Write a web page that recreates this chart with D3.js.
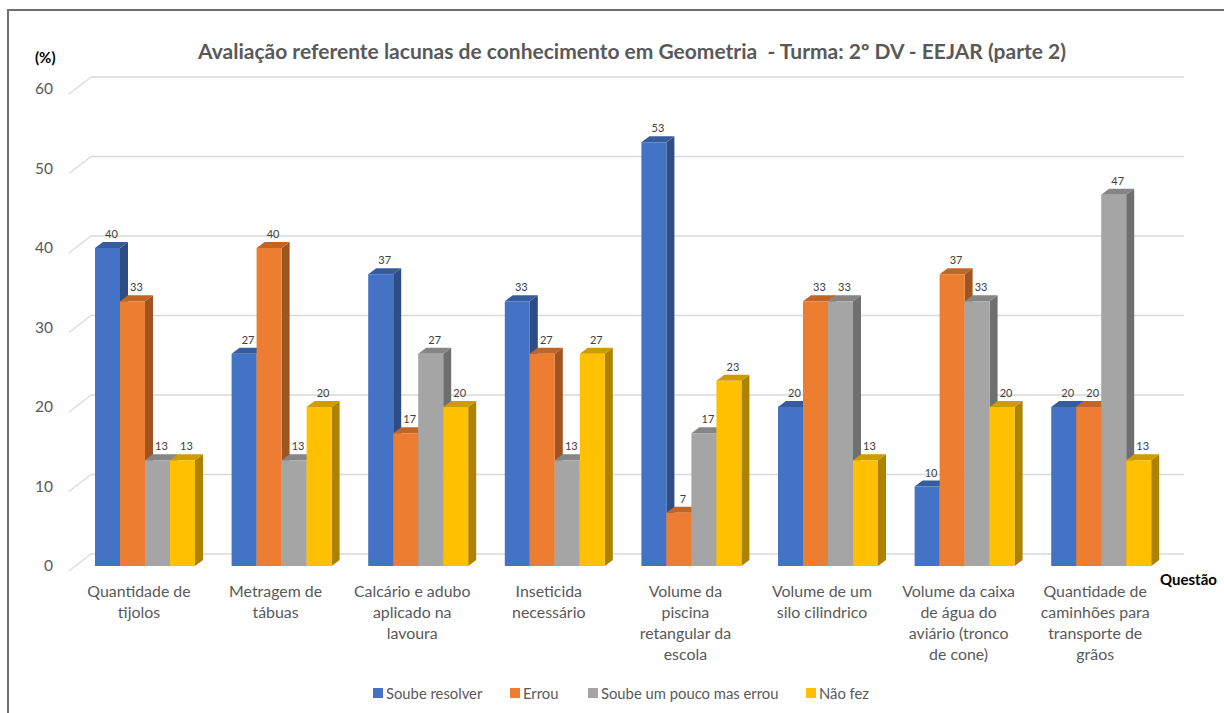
<!DOCTYPE html>
<html>
<head>
<meta charset="utf-8">
<script src="https://cdn.jsdelivr.net/npm/d3@7"></script>
<style>
  body { margin: 0; background: #fff; }
  svg { display: block; font-family: Lato, "Noto Sans", sans-serif; }
</style>
</head>
<body>
<svg id="chart" width="1224" height="713"></svg>
<script>
const title = 'Avaliação referente lacunas de conhecimento em Geometria  - Turma: 2º DV - EEJAR (parte 2)'

// category names, already broken into lines like the original
const categories = [
  ['Quantidade de', 'tijolos'],
  ['Metragem de', 'tábuas'],
  ['Calcário e adubo', 'aplicado na', 'lavoura'],
  ['Inseticida', 'necessário'],
  ['Volume da', 'piscina', 'retangular da', 'escola'],
  ['Volume de um', 'silo cilindrico'],
  ['Volume da caixa', 'de água do', 'aviário (tronco', 'de cone)'],
  ['Quantidade de', 'caminhões para', 'transporte de', 'grãos']
]

const seriesNames = ['Soube resolver', 'Errou', 'Soube um pouco mas errou', 'Não fez']

const soubeResolver = [40, 26.7, 36.7, 33.3, 53.3, 20, 10, 20]
const errou = [33.3, 40, 16.7, 26.7, 6.7, 33.3, 36.7, 20]
const soubePouco = [13.3, 13.3, 26.7, 13.3, 16.7, 33.3, 33.3, 46.7]
const naoFez = [13.3, 20, 20, 26.7, 23.3, 13.3, 20, 13.3]

const yTicks = [0, 10, 20, 30, 40, 50, 60]

const colors = ['#4472C4', '#ED7D31', '#A5A5A5', '#FFC000']

const values = [soubeResolver, errou, soubePouco, naoFez]

const svg = d3.select('#chart')

// frame
svg.append('path')
  .attr('d', 'M8,713V10H1224')
  .attr('fill', 'none')
  .attr('stroke', '#6f6f6f')
  .attr('stroke-width', 2)

let y = d3.scaleLinear().domain([0, 60]).range([566, 89])

let x = d3.scaleBand()
  .domain(d3.range(categories.length))
  .range([76.7, 1169.5])
  .paddingInner(0.268)
  .paddingOuter(0.134)

let xs = d3.scaleBand()
  .domain(d3.range(seriesNames.length))
  .range([0, x.bandwidth()])

let dx = 8, dy = -6 // bar depth

// back wall grid + floor diagonals
let grid = svg.append('g').attr('class', 'grid')
grid.selectAll('line.back')
  .data(yTicks)
  .enter().append('line')
  .attr('class', 'back')
  .attr('x1', 91).attr('x2', 1184)
  .attr('y1', d => y(d) - 12).attr('y2', d => y(d) - 12)
  .attr('stroke', '#d9d9d9').attr('stroke-width', 1.5)
grid.selectAll('line.side')
  .data(yTicks)
  .enter().append('line')
  .attr('class', 'side')
  .attr('x1', 69).attr('x2', 91)
  .attr('y1', d => y(d) + 5).attr('y2', d => y(d) - 12)
  .attr('stroke', '#d9d9d9').attr('stroke-width', 1.2)

svg.append('g')
  .selectAll('text')
  .data(yTicks)
  .enter().append('text')
  .attr('x', 53)
  .attr('y', d => y(d) + 5)
  .attr('text-anchor', 'end')
  .attr('font-size', 15.5)
  .attr('fill', '#595959')
  .text(d => d)

// bars
let bars = []
categories.forEach((c, i) => {
  values.forEach((v, s) => bars.push({ cat: i, s: s, value: v[i] }))
})

let barG = svg.append('g').attr('class', 'bars')
bars.forEach(b => {
  let xl = x(b.cat) + xs(b.s)
  let xr = xl + xs.bandwidth()
  let yt = y(b.value)
  let y0 = y(0)
  let base = d3.color(colors[b.s])
  let g = barG.append('g')
  g.append('polygon')
    .attr('points', [[xr, yt], [xr + dx, yt + dy], [xr + dx, y0 + dy], [xr, y0]].join(' '))
    .attr('fill', base.darker(1.1))
  g.append('polygon')
    .attr('points', [[xl, yt], [xl + dx, yt + dy], [xr + dx, yt + dy], [xr, yt]].join(' '))
    .attr('fill', base.darker(0.6))
  g.append('rect')
    .attr('x', xl).attr('y', yt)
    .attr('width', xr - xl).attr('height', y0 - yt)
    .attr('fill', base)
})

// value labels
svg.append('g')
  .selectAll('text')
  .data(bars)
  .enter().append('text')
  .attr('x', d => x(d.cat) + xs(d.s) + xs.bandwidth() / 2 + dx / 2)
  .attr('y', d => y(d.value) + dy - 4)
  .attr('text-anchor', 'middle')
  .attr('font-size', 11)
  .attr('fill', '#404040')
  .text(d => d3.format('.0f')(d.value))

// category labels
let catG = svg.append('g')
  .selectAll('text')
  .data(categories)
  .enter().append('text')
  .attr('text-anchor', 'middle')
  .attr('font-size', 15.9)
  .attr('fill', '#595959')
catG.selectAll('tspan')
  .data((d, i) => d.map(line => ({ line, i })))
  .enter().append('tspan')
  .attr('x', d => x(d.i) + x.bandwidth() / 2 - 6)
  .attr('y', (d, j) => 597 + j * 21)
  .text(d => d.line)

svg.append('text')
  .attr('x', 632).attr('y', 59)
  .attr('text-anchor', 'middle')
  .attr('font-size', 21)
  .attr('font-weight', 'bold')
  .attr('fill', '#595959')
  .style('white-space', 'pre')
  .text(title)

svg.append('text')
  .attr('x', 35).attr('y', 63)
  .attr('font-size', 15)
  .attr('font-weight', 'bold')
  .attr('fill', '#000')
  .text('(%)')

svg.append('text')
  .attr('x', 1160).attr('y', 585)
  .attr('font-size', 15)
  .attr('font-weight', 'bold')
  .attr('fill', '#000')
  .text('Questão')

// legend
let legendX = [373, 510, 588, 806]
let legend = svg.append('g')
  .selectAll('g')
  .data(seriesNames)
  .enter().append('g')
  .attr('transform', (d, i) => `translate(${legendX[i]},688)`)
legend.append('rect')
  .attr('width', 10).attr('height', 10)
  .attr('fill', (d, i) => colors[i])
legend.append('text')
  .attr('x', 13).attr('y', 11)
  .attr('font-size', 14.8)
  .attr('fill', '#595959')
  .text(d => d)
</script>
</body>
</html>
